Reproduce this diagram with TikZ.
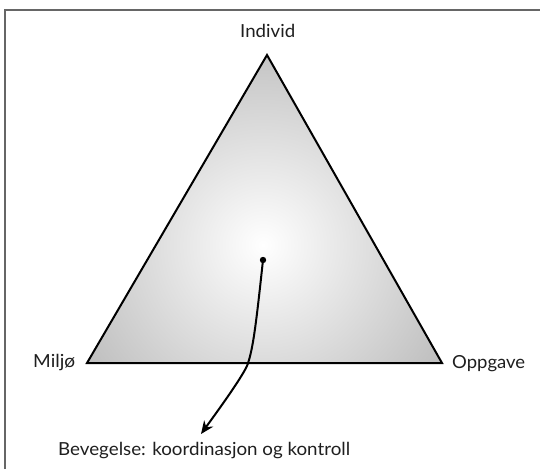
\documentclass[tikz,border=0pt]{standalone}
\usepackage{fontspec}
\usepackage{graphicx}
\setmainfont{Lato}
\usetikzlibrary{arrows.meta}
\newcommand{\fitw}[2]{\resizebox{#1}{\height}{#2}}
\begin{document}
\begin{tikzpicture}[x=1pt,y=-1pt,
  lbl/.style={font=\fontsize{18}{20}\selectfont, text=black!88, inner sep=0pt},
  frameline/.style={draw=black!60, line width=2pt},
  edge/.style={draw=black, line width=2pt, line join=miter},
  conn/.style={draw=black, line width=2pt, -{Stealth[length=13pt,width=11pt]}}]
\useasboundingbox (0,0) rectangle (540,469);
\fill[white] (0,0) rectangle (540,469);
\draw[frameline] (5,469) -- (5,10) -- (540,10);
\coordinate (A) at (267,55);
\coordinate (B) at (87,363);
\coordinate (C) at (442,363);
\begin{scope}
  \clip (A) -- (B) -- (C) -- cycle;
  \shade[inner color=white, outer color=black!30] (263,245) circle[radius=250];
\end{scope}
\draw[edge] (A) -- (B) -- (C) -- cycle;
\node[lbl, anchor=base west] (ind) at (240,37) {\fitw{55pt}{Individ}};
\node[lbl, anchor=base west] (mil) at (33,367) {\fitw{42pt}{Miljø}};
\node[lbl, anchor=base west] (opp) at (452,368) {\fitw{73pt}{Oppgave}};
\node[lbl, anchor=base west] (bev) at (58,455) {\fitw{292pt}{Bevegelse: koordinasjon og kontroll}};
\fill (263,260) circle[radius=3.2] coordinate (dot);
\coordinate (tip) at (201,434);
\draw[conn] (dot) .. controls (256,325) and (253,350) .. (247,366) .. controls (240,380) and (222,405) .. (tip);
\end{tikzpicture}
\end{document}
